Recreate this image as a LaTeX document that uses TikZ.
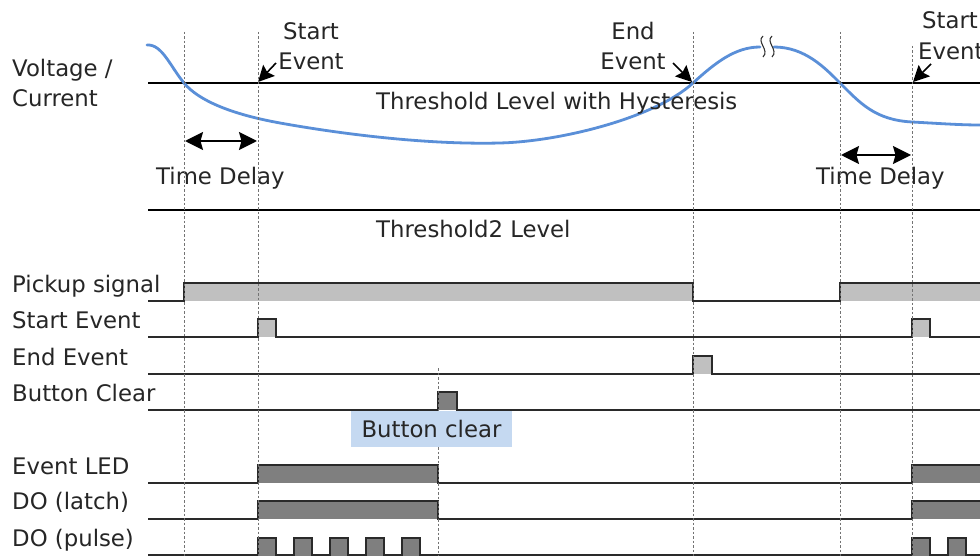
\documentclass[tikz,border=0pt]{standalone}
\usepackage{fontspec}
\setmainfont{DejaVu Sans}
\usetikzlibrary{arrows.meta}
\definecolor{sig}{HTML}{2A2A2A}
\definecolor{lgray}{HTML}{C0C0C0}
\definecolor{dgray}{HTML}{7F7F7F}
\definecolor{curveblue}{HTML}{5A8FD8}
\definecolor{boxblue}{HTML}{C5D9F1}
\definecolor{txt}{HTML}{262626}
\begin{document}
\begin{tikzpicture}[x=1pt,y=-1pt,
  lbl/.style={anchor=base west,inner sep=0pt,font=\fontsize{22.8}{23}\selectfont,text=txt},
  sigline/.style={draw=sig,line width=2pt,line join=miter},
  thr/.style={draw=black,line width=1.7pt},
  vdot/.style={draw=black!55,line width=0.9pt,dash pattern=on 2.5pt off 2pt},
  evarrow/.style={draw=black,line width=1.6pt,-{Stealth[length=16pt,width=16pt,inset=2.5pt]}},
  tdarrow/.style={draw=black,line width=1.8pt,{Stealth[length=18pt,width=18pt,inset=2.5pt]}-{Stealth[length=18pt,width=18pt,inset=2.5pt]}}]
\useasboundingbox[fill=white] (0,0) rectangle (980,556);

% threshold lines
\draw[thr] (148,83) -- (980,83);
\draw[thr] (148,210) -- (980,210);

% blue curve
\draw[curveblue,line width=2.8pt,line cap=round]
  (147,45) .. controls (162,44) and (170,66) .. (184,83)
  .. controls (198,100) and (230,114) .. (280,123)
  .. controls (330,132) and (420,145) .. (500,143)
  .. controls (560,141.5) and (655,118) .. (693,83)
  .. controls (715,63) and (735,47) .. (760,47);
\draw[curveblue,line width=2.8pt,line cap=round]
  (774,47) .. controls (805,47) and (825,68) .. (840,83)
  .. controls (860,103) and (875,120) .. (912,122)
  .. controls (940,123.5) and (960,125) .. (980,125);
% break marks
\draw[black!80,line width=1.1pt] (763,36) .. controls (756,42) and (770,50) .. (763,57);
\draw[black!80,line width=1.1pt] (772,36) .. controls (765,42) and (779,50) .. (772,57);

% labels top
\node[lbl] (volt) at (12,77) {Voltage /};
\node[lbl] (curr) at (12,107) {Current};
\node[lbl] (thr1) at (376,110) {Threshold Level with Hysteresis};
\node[lbl] (thr2) at (376,238) {Threshold2 Level};
\node[lbl,anchor=base] (se1a) at (311,40) {Start};
\node[lbl,anchor=base] (se1b) at (311,70) {Event};
\node[lbl,anchor=base] (ee1a) at (633,40) {End};
\node[lbl,anchor=base] (ee1b) at (633,70) {Event};
\node[lbl] (se2a) at (922,29) {Start};
\node[lbl] (se2b) at (918,60) {Event};
\node[lbl] (td1) at (156,185) {Time Delay};
\node[lbl] (td2) at (816,185) {Time Delay};

% event arrows
\coordinate (a1s) at (276,63); \coordinate (a1e) at (258,82);
\coordinate (a2s) at (673,63); \coordinate (a2e) at (692,82);
\coordinate (a3s) at (931,64); \coordinate (a3e) at (913,82);
\draw[evarrow] (a1s) -- (a1e);
\draw[evarrow] (a2s) -- (a2e);
\draw[evarrow] (a3s) -- (a3e);

% time delay arrows
\coordinate (t1a) at (185,141); \coordinate (t1b) at (257,141);
\coordinate (t2a) at (841,155); \coordinate (t2b) at (911,155);
\draw[tdarrow] (t1a) -- (t1b);
\draw[tdarrow] (t2a) -- (t2b);

% signal labels
\node[lbl] (l1) at (12,292) {Pickup signal};
\node[lbl] (l2) at (12,328) {Start Event};
\node[lbl] (l3) at (12,365) {End Event};
\node[lbl] (l4) at (12,401) {Button Clear};
\node[lbl] (l5) at (12,474) {Event LED};
\node[lbl] (l6) at (12,509) {DO (latch)};
\node[lbl] (l7) at (12,546) {DO (pulse)};

% button clear box
\node[fill=boxblue,minimum width=161pt,minimum height=36pt,inner sep=0pt,
  font=\fontsize{22.8}{23}\selectfont,text=txt] (bc) at (431.5,429) {Button clear};

% fills
\fill[lgray] (184,283) rectangle (693,301);
\fill[lgray] (840,283) rectangle (980,301);
\fill[lgray] (258,319) rectangle (276,337);
\fill[lgray] (912,319) rectangle (930,337);
\fill[lgray] (693,356) rectangle (712,374);
\fill[dgray] (438,392) rectangle (457,410);
\fill[dgray] (258,465) rectangle (438,483);
\fill[dgray] (912,465) rectangle (980,483);
\fill[dgray] (258,501) rectangle (438,519);
\fill[dgray] (912,501) rectangle (980,519);
\foreach \x in {258,294,330,366,402,912,948}
  \fill[dgray] (\x,538) rectangle (\x+18,556);

% signal lines
\draw[sigline] (148,301) -- (184,301) -- (184,283) -- (693,283) -- (693,301) -- (840,301) -- (840,283) -- (980,283);
\draw[sigline] (148,337) -- (258,337) -- (258,319) -- (276,319) -- (276,337) -- (912,337) -- (912,319) -- (930,319) -- (930,337) -- (980,337);
\draw[sigline] (148,374) -- (693,374) -- (693,356) -- (712,356) -- (712,374) -- (980,374);
\draw[sigline] (148,410) -- (438,410) -- (438,392) -- (457,392) -- (457,410) -- (980,410);
\draw[sigline] (148,483) -- (258,483) -- (258,465) -- (438,465) -- (438,483) -- (912,483) -- (912,465) -- (980,465);
\draw[sigline] (148,519) -- (258,519) -- (258,501) -- (438,501) -- (438,519) -- (912,519) -- (912,501) -- (980,501);
\draw[sigline] (148,555) -- (258,555) -- (258,538) -- (276,538) -- (276,555) -- (294,555) -- (294,538) -- (312,538) -- (312,555)
  -- (330,555) -- (330,538) -- (348,538) -- (348,555) -- (366,555) -- (366,538) -- (384,538) -- (384,555)
  -- (402,555) -- (402,538) -- (420,538) -- (420,555) -- (912,555) -- (912,538) -- (930,538) -- (930,555)
  -- (948,555) -- (948,538) -- (966,538) -- (966,555) -- (980,555);

% dotted verticals
\draw[vdot] (184,32) -- (184,556);
\draw[vdot] (258,32) -- (258,556);
\draw[vdot] (693,32) -- (693,556);
\draw[vdot] (840,32) -- (840,556);
\draw[vdot] (912,46) -- (912,556);
\draw[vdot] (438,368) -- (438,411);
\draw[vdot] (438,447) -- (438,556);
\end{tikzpicture}
\end{document}
